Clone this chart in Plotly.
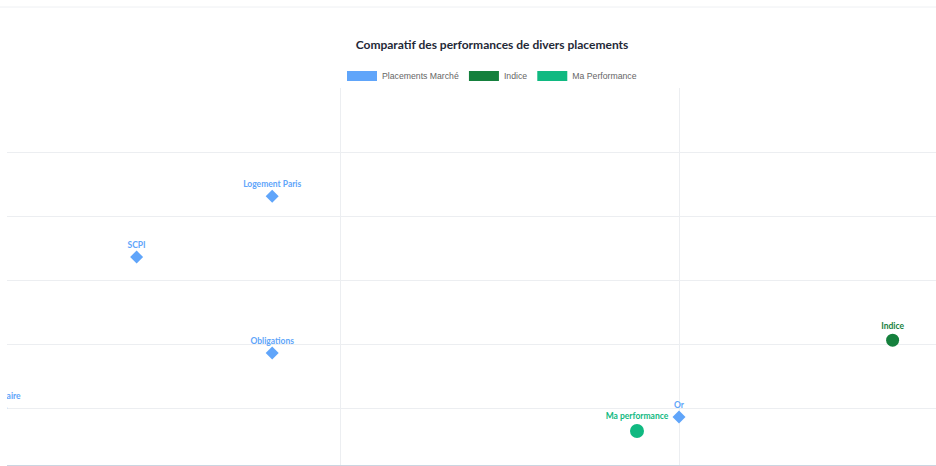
import plotly.graph_objects as go

# --- données
placements = ["Monétaire", "Obligations", "SCPI", "Logement Paris", "Or"]
risque_placements = [0.0, 8.0, 4.0, 8.0, 20.0]
rendement_placements = [1.0, 1.86, 3.36, 4.31, 0.86]

indice_nom = ["Indice"]
risque_indice = [26.3]
rendement_indice = [2.06]

perf_nom = ["Ma performance"]
risque_perf = [18.76]
rendement_perf = [0.64]

legende = ["Placements Marché", "Indice", "Ma Performance"]
couleurs = ["#60a5fa", "#15803d", "#10b981"]

W, H = 936, 466

fig = go.Figure()

# placements marché
fig.add_trace(go.Scatter(
    x=risque_placements, y=rendement_placements, text=placements,
    mode="markers+text", textposition="top center",
    marker=dict(symbol="diamond", size=10, color=couleurs[0]),
    textfont=dict(family="Lato", size=8.5, color=couleurs[0], weight="bold"),
    showlegend=False, hoverinfo="skip",
))
# indice
fig.add_trace(go.Scatter(
    x=risque_indice, y=rendement_indice, text=indice_nom,
    mode="markers+text", textposition="top center",
    marker=dict(symbol="circle", size=13, color=couleurs[1]),
    textfont=dict(family="Lato", size=8.5, color=couleurs[1], weight="bold"),
    showlegend=False, hoverinfo="skip",
))
# ma performance
fig.add_trace(go.Scatter(
    x=risque_perf, y=rendement_perf, text=perf_nom,
    mode="markers+text", textposition="top center",
    marker=dict(symbol="circle", size=14, color=couleurs[2]),
    textfont=dict(family="Lato", size=8.5, color=couleurs[2], weight="bold"),
    showlegend=False, hoverinfo="skip",
))

# entrées de légende (boîtes façon chart.js)
for nom, c in zip(legende, couleurs):
    fig.add_trace(go.Scatter(
        x=[None], y=[None], mode="lines", name=nom,
        line=dict(color=c, width=10),
    ))

fig.update_layout(
    width=W, height=H,
    margin=dict(l=7, r=0, t=88, b=1),
    plot_bgcolor="white", paper_bgcolor="white",
    title=dict(
        text="<b>Comparatif des performances de divers placements</b>",
        x=492 / W, xanchor="center", y=1 - 45 / H, yanchor="middle",
        font=dict(family="Lato", size=12, color="#1f2937"),
    ),
    legend=dict(
        orientation="h", x=(492 - 7) / 929, xanchor="center", y=1.032, yanchor="middle",
        font=dict(family="Liberation Sans", size=8.7, color="#666666"),
        itemwidth=30, tracegroupgap=0,
    ),
    shapes=[dict(
        type="line", xref="paper", yref="paper",
        x0=-0.01, x1=1.0, y0=1 + 81 / 377, y1=1 + 81 / 377,
        line=dict(color="#eef0f3", width=1),
    )],
)
fig.update_xaxes(
    range=[0.177, 27.58], tick0=0, dtick=10,
    showgrid=True, gridcolor="#eceef1", gridwidth=1,
    zeroline=False, showticklabels=False, ticks="",
    showline=True, linecolor="#cbd5e1", linewidth=2,
)
fig.update_yaxes(
    range=[0.109, 6.003], tick0=0, dtick=1,
    showgrid=True, gridcolor="#eceef1", gridwidth=1,
    zeroline=False, showticklabels=False, ticks="",
)

# pas de marge autour de la figure dans la page
fig.write_html("out.html", config={"displayModeBar": False},
               post_script="document.body.style.margin='0';")
